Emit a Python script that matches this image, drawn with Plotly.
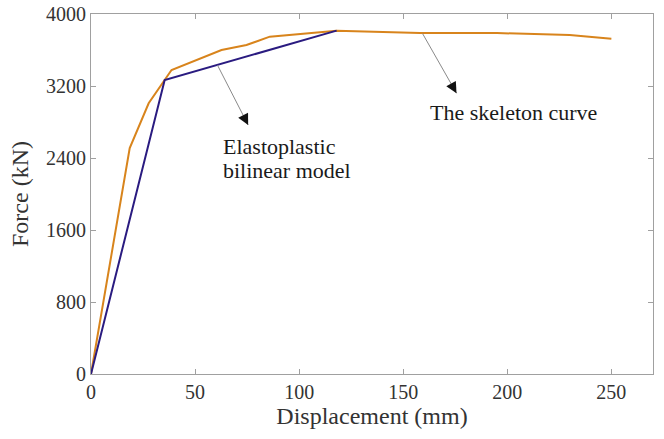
import plotly.graph_objects as go

# Skeleton curve (displacement in mm, force in kN)
skeleton_disp = [0, 18.6, 27.7, 38.7, 62.7, 74.7, 85.9, 118, 158, 195, 230, 250]
skeleton_force = [0, 2510, 3008, 3378, 3600, 3655, 3748, 3815, 3790, 3788, 3768, 3726]

# Elastoplastic bilinear model
bilinear_disp = [0, 35.4, 118]
bilinear_force = [0, 3267, 3815]

x_ticks = [0, 50, 100, 150, 200, 250]
y_ticks = [0, 800, 1600, 2400, 3200, 4000]

ORANGE = "#D8841C"
NAVY = "#2A1B80"
AXIS_GRAY = "#A0A0A0"
TEXT = "#333333"
FONT = "Liberation Serif"

fig = go.Figure()
fig.add_trace(go.Scatter(x=skeleton_disp, y=skeleton_force, mode="lines",
                         line=dict(color=ORANGE, width=2), showlegend=False))
fig.add_trace(go.Scatter(x=bilinear_disp, y=bilinear_force, mode="lines",
                         line=dict(color=NAVY, width=2), showlegend=False))


def pointer(tail, head):
    # thin gray leader line with a black arrowhead at its far end
    fig.add_shape(type="line", x0=tail[0], y0=tail[1], x1=head[0], y1=head[1],
                  xref="x", yref="y", line=dict(color="#8a8a8a", width=1))
    dx = head[0] - tail[0]
    dy = head[1] - tail[1]
    fig.add_annotation(x=head[0], y=head[1], ax=head[0] - dx * 0.15,
                       ay=head[1] - dy * 0.15, xref="x", yref="y",
                       axref="x", ayref="y", text="", showarrow=True,
                       arrowhead=2, arrowsize=2.2, arrowwidth=1,
                       arrowcolor="#111111")


pointer((60.8, 3430), (75.5, 2767))
pointer((159.3, 3782), (175.6, 3120))

fig.add_annotation(x=62.5, y=2530, xref="x", yref="y", text="Elastoplastic",
                   showarrow=False, xanchor="left", yanchor="middle",
                   font=dict(family=FONT, size=22, color="#1a1a1a"))
fig.add_annotation(x=62.5, y=2265, xref="x", yref="y", text="bilinear model",
                   showarrow=False, xanchor="left", yanchor="middle",
                   font=dict(family=FONT, size=22, color="#1a1a1a"))
fig.add_annotation(x=203.1, y=2911, xref="x", yref="y", text="The skeleton curve",
                   showarrow=False, xanchor="center", yanchor="middle",
                   font=dict(family=FONT, size=22, color="#1a1a1a"))

axis_common = dict(showline=True, linecolor=AXIS_GRAY, linewidth=1, mirror="ticks",
                   ticks="inside", ticklen=5, tickcolor=AXIS_GRAY, showgrid=False,
                   zeroline=False, automargin=False,
                   tickfont=dict(family=FONT, size=20, color=TEXT))

fig.update_xaxes(range=[0, 270], tickvals=x_ticks,
                 title=dict(text="Displacement (mm)", standoff=4,
                            font=dict(family=FONT, size=24, color=TEXT)),
                 **axis_common)
fig.update_yaxes(range=[0, 4000], tickvals=y_ticks,
                 title=dict(text="Force (kN)", standoff=10,
                            font=dict(family=FONT, size=24, color=TEXT)),
                 **axis_common)

fig.update_layout(width=664, height=439, margin=dict(l=91, r=11, t=14, b=65),
                  plot_bgcolor="white", paper_bgcolor="white")

fig.write_html("out.html")
